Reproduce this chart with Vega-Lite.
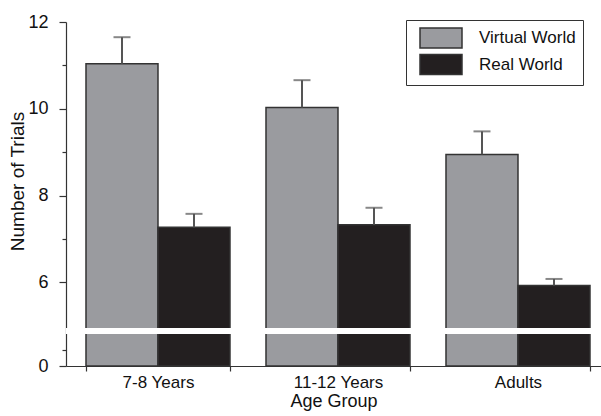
{
  "$schema": "https://vega.github.io/schema/vega-lite/v6.json",
  "autosize": {"type": "none"},
  "padding": {"left": 66, "top": 22, "right": 0, "bottom": 50},
  "width": 535,
  "height": 344,
  "background": "white",
  "config": {
    "font": "Liberation Sans",
    "view": {"stroke": null},
    "axis": {"domainColor": "#333", "tickColor": "#333", "labelColor": "#111", "titleColor": "#111", "grid": false, "domainWidth": 1.2, "tickWidth": 1.2, "labelFont": "Liberation Sans", "titleFont": "Liberation Sans", "titleFontWeight": "normal", "zindex": 1}
  },
  "layer": [
    {
      "data": {"values": [
        {"group": "7-8 Years", "cond": "Virtual World", "mean": 11.04, "upper": 11.65},
        {"group": "7-8 Years", "cond": "Real World", "mean": 7.27, "upper": 7.58},
        {"group": "11-12 Years", "cond": "Virtual World", "mean": 10.03, "upper": 10.66},
        {"group": "11-12 Years", "cond": "Real World", "mean": 7.33, "upper": 7.72},
        {"group": "Adults", "cond": "Virtual World", "mean": 8.95, "upper": 9.48},
        {"group": "Adults", "cond": "Real World", "mean": 5.93, "upper": 6.08}
      ]},
      "encoding": {
        "x": {"field": "group", "type": "nominal", "sort": ["7-8 Years", "11-12 Years", "Adults"],
          "scale": {"paddingInner": 0.2, "paddingOuter": 0.0861, "align": 0.645},
          "axis": {"title": "Age Group", "labelAngle": 0, "tickBand": "extent", "tickSize": 5, "labelPadding": 3, "labelFontSize": 17, "titleFontSize": 18, "titlePadding": 2}},
        "xOffset": {"field": "cond", "type": "nominal", "sort": ["Virtual World", "Real World"], "scale": {"paddingInner": 0, "paddingOuter": 0}}
      },
      "layer": [
        {
          "mark": {"type": "bar", "stroke": "#333", "strokeWidth": 1.5},
          "encoding": {
            "y": {"field": "mean", "type": "quantitative",
              "scale": {"domain": [0, 2, 4.95, 12], "range": [344, 312, 306, 0], "nice": false, "zero": false},
              "axis": {"title": "Number of Trials", "values": [0, 1, 6, 7, 8, 9, 10, 11, 12],
                "labelExpr": "datum.value % 2 == 0 ? datum.label : ''",
                "tickSize": 7,
                "tickDash": {"condition": {"test": "datum.value % 2 == 1", "value": [4, 20]}, "value": []},
                "labelPadding": 11,
                "labelFontSize": 18, "titleFontSize": 19, "titleX": -39, "titleY": 159}},
            "color": {"field": "cond", "type": "nominal",
              "scale": {"domain": ["Virtual World", "Real World"], "range": ["#9a9b9f", "#231f20"]},
              "legend": {"title": null, "orient": "none", "legendX": 340, "legendY": -2,
                "padding": 7, "strokeColor": "#333", "fillColor": "white",
                "symbolType": "M-2.1,-1H2.1V1H-2.1Z", "symbolSize": 400,
                "symbolStrokeColor": "#333", "symbolStrokeWidth": 1.5, "symbolOffset": 17,
                "labelOffset": 27, "labelFontSize": 17, "labelColor": "#111", "rowPadding": 0.5,
                "labelExpr": "datum.label + '\u00a0\u00a0\u00a0\u00a0'"}}
          }
        },
        {
          "mark": {"type": "rule", "color": "#555", "strokeWidth": 2},
          "encoding": {"y": {"field": "mean", "type": "quantitative"}, "y2": {"field": "upper"}}
        },
        {
          "mark": {"type": "tick", "color": "#555", "thickness": 2, "size": 17, "orient": "horizontal"},
          "encoding": {"y": {"field": "upper", "type": "quantitative"}}
        }
      ]
    },
    {
      "data": {"values": [{"lo": 2, "hi": 4.95}]},
      "mark": {"type": "rect", "fill": "white"},
      "encoding": {"y": {"field": "lo", "type": "quantitative"}, "y2": {"field": "hi"}}
    }
  ]
}
